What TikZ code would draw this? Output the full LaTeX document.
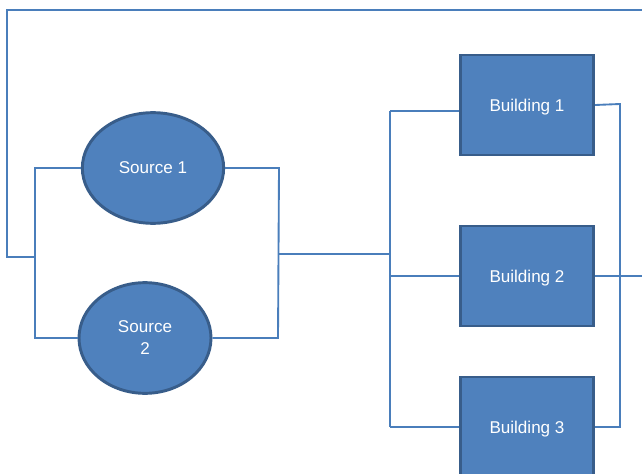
\documentclass[tikz,border=0pt]{standalone}
\usepackage{fontspec}
\setmainfont{Liberation Sans}
\usetikzlibrary{shapes.geometric}
\definecolor{offblue}{RGB}{79,129,189}
\definecolor{edgeblue}{RGB}{56,93,138}
\definecolor{wireblue}{RGB}{74,126,187}

\begin{document}
\begin{tikzpicture}[x=0.75pt,y=-0.75pt]
  \tikzstyle{src}=[ellipse,draw=edgeblue,line width=2.2pt,fill=offblue,
    minimum width=104pt,minimum height=83pt,inner sep=0pt,align=center,text=white,
    text depth=0pt,font=\fontsize{12.8}{16.5}\selectfont]
  \tikzstyle{bld}=[rectangle,draw=edgeblue,line width=2.2pt,fill=offblue,
    minimum width=100pt,minimum height=75pt,inner sep=0pt,align=center,text=white,
    text depth=0pt,font=\fontsize{12.8}{16.5}\selectfont]
  \tikzstyle{wire}=[wireblue,line width=1.4pt]

  \clip (0,0) rectangle (642,474);
  \useasboundingbox (0,0) rectangle (642,474);

  \node[src,minimum width=106pt] (s1) at (153,168) {Source 1};
  \node[src,minimum width=99pt] (s2) at (145,338) {Source\\2};

  \node[bld] (b1) at (527,105) {Building 1};
  \node[bld] (b2) at (527,276) {Building 2};
  \node[bld] (b3) at (527,427) {Building 3};

  % bus points
  \coordinate (lt) at (35,168);
  \coordinate (lb) at (35,338);
  \coordinate (lm) at (35,257);
  \coordinate (rt) at (279,168);
  \coordinate (rb) at (278,338);
  \coordinate (rm) at (278,254);
  \coordinate (bt) at (390,111);
  \coordinate (bm) at (390,254);
  \coordinate (bj) at (390,276);
  \coordinate (bb) at (390,427);
  \coordinate (et) at (620,104);
  \coordinate (eb) at (620,427);
  \coordinate (out) at (642,276);
  \coordinate (c1) at (7,257);
  \coordinate (c2) at (7,10);
  \coordinate (c3) at (642,10);

  \draw[wire] (s1.west) -- (lt) -- (lb) -- (s2.west);
  \draw[wire] (s1.east) -- (rt) -- (rb) -- (s2.east);
  \draw[wire] (rm) -- (bm);
  \draw[wire] (bt) -- (bb);
  \draw[wire] (bt) -- (bt -| b1.west);
  \draw[wire] (bj) -- (b2.west);
  \draw[wire] (bb) -- (b3.west);
  \draw[wire] (b1.east) -- (et) -- (eb) -- (b3.east);
  \draw[wire] (b2.east) -- (out);
  \draw[wire] (lm) -- (c1) -- (c2) -- (c3);
\end{tikzpicture}
\end{document}
